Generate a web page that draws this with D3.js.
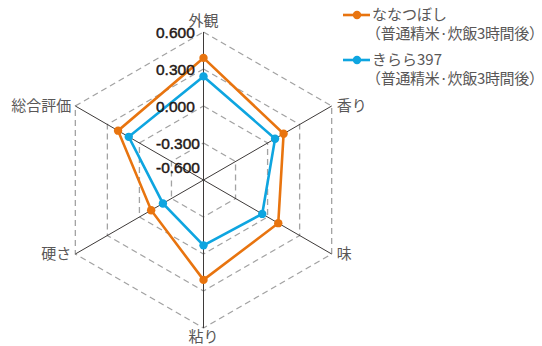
<!DOCTYPE html>
<html><head><meta charset="utf-8">
<script src="https://cdn.jsdelivr.net/npm/d3@7"></script>
<style>body{margin:0;background:#fff}svg{display:block}</style>
</head><body>
<svg id="c" width="542" height="346"></svg>
<script>
const axes = ["外観","香り","味","粘り","硬さ","総合評価"];
const seriesNames = ["ななつぼし","きらら397"];
const seriesSub = "（普通精米·炊飯3時間後）";
const nanatsuboshi = [0.39, 0.15, 0.10, 0.21, -0.11, 0.20];
const kirara = [0.24, 0.07, -0.05, -0.07, -0.22, 0.10];
const ticks = [0.6, 0.3, 0.0, -0.3, -0.6];
const tickLabels = ["0.600","0.300","0.000","-0.300","-0.600"];
const colors = ["#e8740f","#0ea5e0"];

const svg = d3.select("#c");
const cx = 203.5, cy = 180, R = 148;
const r = d3.scaleLinear().domain([-0.6, 0.6]).range([0, R]);
const ang = d3.scalePoint().domain(axes).range([0, 2*Math.PI*5/6]);
const pt = (a, v) => { const t = ang(a); return [cx + r(v)*Math.sin(t), cy - r(v)*Math.cos(t)]; };

// grid rings
const g = svg.append("g");
ticks.filter(t => t > -0.6).forEach(t => {
  g.append("path")
    .attr("d", d3.line()(axes.map(a => pt(a, t))) + "Z")
    .attr("fill", "none").attr("stroke", "#a3a3a3").attr("stroke-width", 1.3)
    .attr("stroke-dasharray", "6,4");
});
// spokes
axes.forEach(a => {
  const [x, y] = pt(a, 0.6);
  g.append("line").attr("x1", cx).attr("y1", cy).attr("x2", x).attr("y2", y)
    .attr("stroke", "#3e3a39").attr("stroke-width", 1);
});
// axis labels
const labPos = {
  "外観": {dx:0, dy:-11, anchor:"middle"},
  "香り": {dx:5, dy:0, anchor:"start"},
  "味": {dx:5, dy:0, anchor:"start"},
  "粘り": {dx:0, dy:9, anchor:"middle"},
  "硬さ": {dx:-4, dy:0, anchor:"end"},
  "総合評価": {dx:-4, dy:0, anchor:"end"}
};
axes.forEach(a => {
  const [x, y] = pt(a, 0.6), p = labPos[a];
  svg.append("text").attr("x", x + p.dx).attr("y", y + p.dy).attr("dy", "0.35em")
    .attr("text-anchor", p.anchor).attr("font-family", "'Noto Sans CJK JP', sans-serif")
    .attr("font-size", 15).attr("fill", "#595757").text(a);
});
// series
[nanatsuboshi, kirara].forEach((vals, i) => {
  const pts = axes.map((a, k) => pt(a, vals[k]));
  svg.append("path").attr("d", d3.line()(pts) + "Z").attr("fill", "none")
    .attr("stroke", colors[i]).attr("stroke-width", 2.6).attr("stroke-linejoin", "miter");
  svg.selectAll(null).data(pts).enter().append("circle")
    .attr("cx", d => d[0]).attr("cy", d => d[1]).attr("r", 4.2).attr("fill", colors[i]);
});
// tick labels
ticks.forEach((t, k) => {
  const y = cy - r(t) + (t === -0.6 ? -13 : 0);
  svg.append("text").attr("x", 156).attr("y", y).attr("dy", "0.36em")
    .attr("font-family", "'Liberation Sans', Arial, sans-serif")
    .attr("font-size", 15.5).attr("fill", "#231815")
    .attr("stroke", "#231815").attr("stroke-width", 0.45).text(tickLabels[k]);
});
// legend
const lg = svg.append("g");
seriesNames.forEach((n, i) => {
  const y = 15 + i * 45;
  lg.append("line").attr("x1", 343).attr("x2", 370).attr("y1", y).attr("y2", y)
    .attr("stroke", colors[i]).attr("stroke-width", 2.6);
  lg.append("circle").attr("cx", 357).attr("cy", y).attr("r", 4.2).attr("fill", colors[i]);
  lg.append("text").attr("x", 372).attr("y", y).attr("dy", "0.35em")
    .attr("font-family", "'Noto Sans CJK JP', sans-serif").attr("font-size", 15)
    .attr("fill", "#595757").text(n);
  lg.append("text").attr("x", 366).attr("y", y + 18.5).attr("dy", "0.35em")
    .attr("font-family", "'Noto Sans CJK JP', sans-serif").attr("font-size", 15)
    .attr("fill", "#595757").attr("textLength", 178).text(seriesSub);
});
</script>
</body></html>
